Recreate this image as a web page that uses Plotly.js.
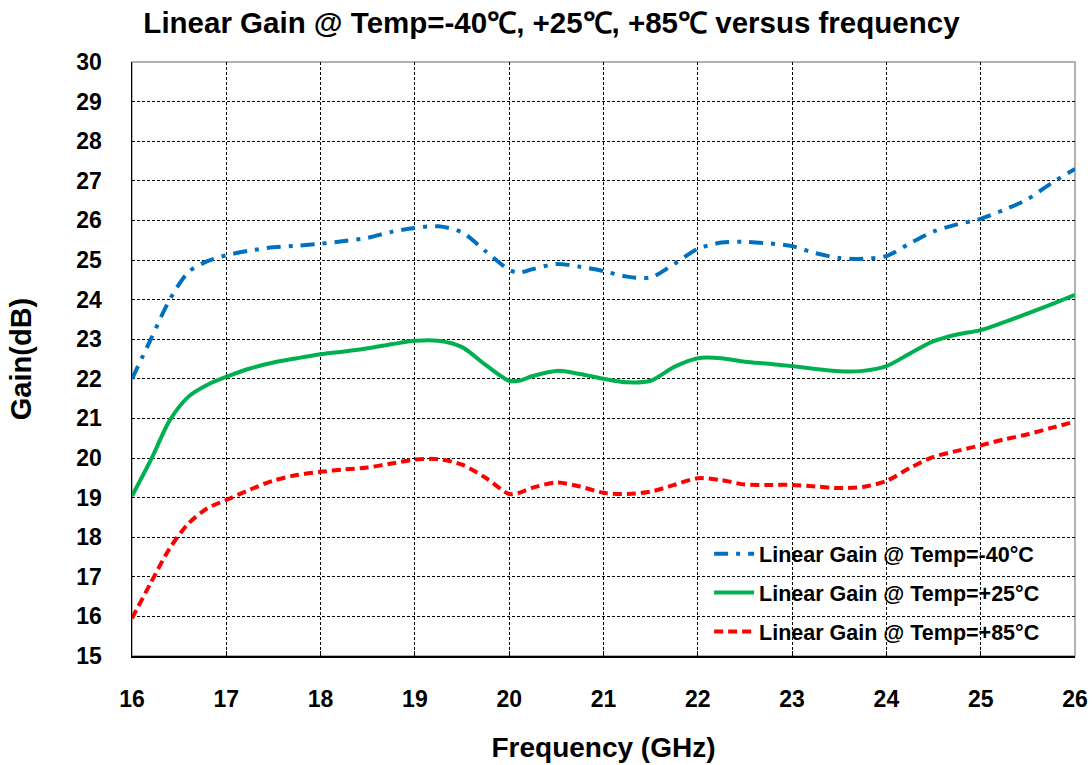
<!DOCTYPE html>
<html>
<head>
<meta charset="utf-8">
<script src="https://cdn.plot.ly/plotly-3.0.1.min.js"></script>
<style>html,body{margin:0;padding:0;background:#fff;}#chart{width:1092px;height:765px;}</style>
</head>
<body>
<div id="chart"></div>
<script>
const freq = [16, 16.2, 16.4, 16.6, 16.8, 17, 17.25, 17.5, 17.75, 18, 18.25, 18.5, 18.75, 19, 19.25, 19.5, 19.75, 20, 20.1, 20.25, 20.5, 20.75, 21, 21.25, 21.5, 21.75, 22, 22.25, 22.5, 22.75, 23, 23.25, 23.5, 23.75, 24, 24.25, 24.5, 24.75, 25, 25.25, 25.5, 25.75, 26];
const gainM40 = [22.0, 23.0, 24.0, 24.7, 24.97, 25.12, 25.24, 25.32, 25.36, 25.41, 25.48, 25.56, 25.71, 25.81, 25.85, 25.7, 25.22, 24.75, 24.68, 24.77, 24.9, 24.83, 24.72, 24.58, 24.56, 24.9, 25.28, 25.44, 25.46, 25.42, 25.35, 25.17, 25.05, 25.03, 25.1, 25.42, 25.72, 25.9, 26.04, 26.27, 26.54, 26.94, 27.3];
const gainP25 = [19.04, 19.95, 20.95, 21.55, 21.85, 22.05, 22.26, 22.41, 22.52, 22.62, 22.69, 22.77, 22.87, 22.96, 22.96, 22.8, 22.35, 21.95, 21.95, 22.07, 22.2, 22.12, 22.0, 21.91, 21.95, 22.3, 22.52, 22.52, 22.43, 22.38, 22.32, 22.25, 22.19, 22.2, 22.32, 22.64, 22.95, 23.12, 23.23, 23.43, 23.65, 23.88, 24.12];
const gainP85 = [15.95, 16.85, 17.72, 18.35, 18.73, 18.94, 19.2, 19.43, 19.57, 19.65, 19.71, 19.76, 19.86, 19.96, 19.97, 19.83, 19.5, 19.09, 19.12, 19.25, 19.38, 19.28, 19.12, 19.09, 19.15, 19.32, 19.49, 19.44, 19.33, 19.32, 19.32, 19.28, 19.24, 19.27, 19.42, 19.75, 20.03, 20.18, 20.32, 20.47, 20.6, 20.76, 20.92];
const seriesNames = ["Linear Gain @ Temp=-40°C", "Linear Gain @ Temp=+25°C", "Linear Gain @ Temp=+85°C"];
const titleText = "Linear Gain @ Temp=-40℃, +25℃, +85℃ versus frequency";
const xTitle = "Frequency (GHz)";
const yTitle = "Gain(dB)";

const FONT = "Liberation Sans, Arial, sans-serif";
const traces = [
  {x: freq, y: gainM40, name: seriesNames[0], mode: "lines", legend: "legend",
   line: {color: "#0070C0", width: 4, dash: "14px,8px,4px,8px", shape: "spline", smoothing: 0.8}},
  {x: freq, y: gainP25, name: seriesNames[1], mode: "lines", legend: "legend2",
   line: {color: "#00B050", width: 4, dash: "solid", shape: "spline", smoothing: 0.8}},
  {x: freq, y: gainP85, name: seriesNames[2], mode: "lines", legend: "legend3",
   line: {color: "#FF0000", width: 4, dash: "9px,5px", shape: "spline", smoothing: 0.8}}
];
const legFont = {family: FONT, size: 21.5, color: "#000", weight: "bold"};
function leg(y){ return {x: 0.612, y: y, xanchor: "left", yanchor: "middle", bgcolor: "rgba(0,0,0,0)", font: legFont, itemwidth: 40}; }
const layout = {
  width: 1092, height: 765,
  paper_bgcolor: "#fff", plot_bgcolor: "#fff",
  margin: {l: 132, r: 17, t: 62, b: 109},
  title: {text: titleText, x: 0.505, xanchor: "center", y: 0.97, yanchor: "middle",
          font: {family: FONT, size: 29.5, color: "#000", weight: "bold"}},
  xaxis: {range: [16, 26], dtick: 1, tick0: 16, showgrid: true, gridcolor: "#000", gridwidth: 1, griddash: "3px,2px",
          showline: true, linecolor: "#000", linewidth: 1.5, zeroline: false,
          ticks: "inside", ticklen: 5, tickcolor: "#000", ticklabelstandoff: 22,
          tickfont: {family: FONT, size: 23, color: "#000", weight: "bold"},
          title: {text: xTitle, font: {family: FONT, size: 28, color: "#000", weight: "bold"}, standoff: 26}},
  yaxis: {range: [15, 30], dtick: 1, tick0: 15, showgrid: true, gridcolor: "#000", gridwidth: 1, griddash: "3px,2px",
          showline: true, linecolor: "#000", linewidth: 1.5, zeroline: false,
          ticks: "", ticklabelstandoff: 24,
          tickfont: {family: FONT, size: 23, color: "#000", weight: "bold"},
          title: {text: yTitle, font: {family: FONT, size: 29, color: "#000", weight: "bold"}, standoff: 36}},
  shapes: [{type: "rect", xref: "paper", yref: "paper", x0: 0, x1: 1, y0: 0, y1: 1, line: {color: "#999", width: 1.5}, layer: "below"}],
  showlegend: true,
  legend: leg(0.172),
  legend2: leg(0.107),
  legend3: leg(0.041)
};
Plotly.newPlot("chart", traces, layout, {displayModeBar: false, staticPlot: true});
</script>
</body>
</html>
